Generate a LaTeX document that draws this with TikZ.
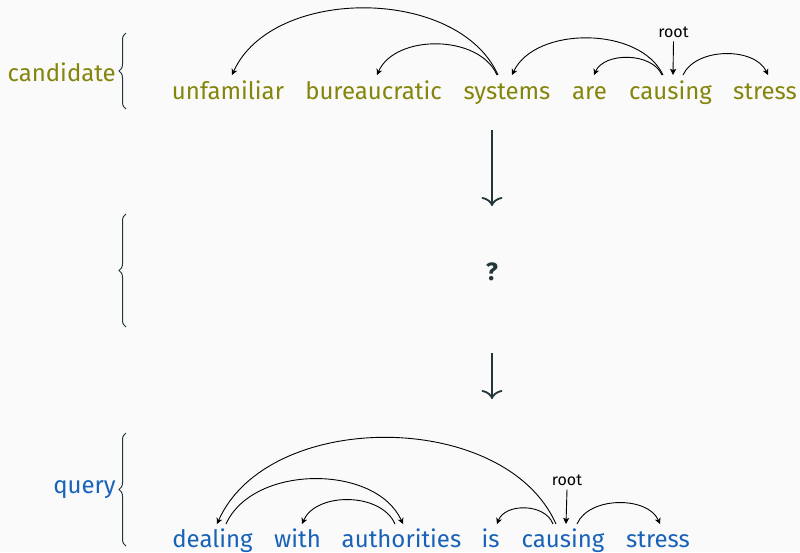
\documentclass[tikz,border=0pt]{standalone}
\usepackage{fontspec}
\setmainfont{Fira Sans}
\usetikzlibrary{arrows.meta,decorations.pathreplacing}

\definecolor{slide}{HTML}{FAFAFA}
\definecolor{darkteal}{HTML}{23373B}
\definecolor{candcol}{RGB}{133,133,12}
\definecolor{querycol}{RGB}{24,98,184}

\tikzset{
  word/.style={anchor=base, inner sep=0pt, font=\fontsize{24}{28}\selectfont},
  cword/.style={word, text=candcol},
  qword/.style={word, text=querycol},
  sidelabel/.style={anchor=base east, inner sep=0pt, font=\fontsize{24}{28}\selectfont},
  rootlabel/.style={anchor=base, inner sep=0pt, font=\fontsize{16}{18}\selectfont, text=black},
  dep/.style={draw=black, line width=0.9pt, -{Stealth[length=6pt,width=6pt,inset=1.8pt]}},
  rootarrow/.style={draw=black, line width=0.9pt, -{Stealth[length=6pt,width=6pt,inset=1pt]}},
  group/.style={draw=darkteal, line width=1pt, decorate,
    decoration={brace, amplitude=7pt}},
  flow/.style={draw=darkteal, line width=1.8pt,
    -{Computer Modern Rightarrow[length=9pt,width=21pt]}},
}

\begin{document}
\begin{tikzpicture}[x=1pt, y=-1pt]
  \fill[slide] (0,0) rectangle (800,552);
  \useasboundingbox (0,0) rectangle (800,552);

  % candidate sentence
  \node[cword] (unf) at (228,99)   {unfamiliar};
  \node[cword] (bur) at (373.5,99) {bureaucratic};
  \node[cword] (sys) at (507,99)   {systems};
  \node[cword] (are) at (589.5,99) {are};
  \node[cword] (cau) at (670.5,99) {causing};
  \node[cword] (str) at (765,99)   {stress};

  % query sentence
  \node[qword] (dea) at (212.5,547) {dealing};
  \node[qword] (wit) at (297.5,547) {with};
  \node[qword] (aut) at (401.5,547) {authorities};
  \node[qword] (is)  at (490.5,547) {is};
  \node[qword] (qca) at (563,547)   {causing};
  \node[qword] (qst) at (658,547)   {stress};

  % side labels and braces
  \node[sidelabel, text=candcol] (candlab) at (116,81) {candidate};
  \node[sidelabel, text=querycol] (querylab) at (116,493) {query};
  \draw[group] (126,109) -- (126,33);
  \draw[group] (126,327) -- (126,214);
  \draw[group] (126,546) -- (126,433);

  % the unknown middle step
  \node[anchor=base, inner sep=0pt, text=darkteal,
        font=\fontsize{25}{28}\selectfont\bfseries] (mid) at (492,280) {?};
  \coordinate (flowAtop) at (492,130);
  \coordinate (flowAbot) at (492,206);
  \coordinate (flowBtop) at (492,353);
  \coordinate (flowBbot) at (492,399);
  \draw[flow] (flowAtop) -- (flowAbot);
  \draw[flow] (flowBtop) -- (flowBbot);

  % attachment points on the candidate words
  \coordinate (sysA) at ([xshift=-9pt,yshift=24pt]sys.base);
  \coordinate (sysB) at ([xshift=-10pt,yshift=24pt]sys.base);
  \coordinate (sysIn) at ([xshift=5pt,yshift=24pt]sys.base);
  \coordinate (unfIn) at ([xshift=4pt,yshift=24pt]unf.base);
  \coordinate (burIn) at ([xshift=3.5pt,yshift=24pt]bur.base);
  \coordinate (cauA) at ([xshift=-7.5pt,yshift=24pt]cau.base);
  \coordinate (cauB) at ([xshift=-8.5pt,yshift=24pt]cau.base);
  \coordinate (cauC) at ([xshift=12.5pt,yshift=24pt]cau.base);
  \coordinate (cauIn) at ([xshift=2.5pt,yshift=24pt]cau.base);
  \coordinate (areIn) at ([xshift=4.5pt,yshift=24pt]are.base);
  \coordinate (strIn) at ([xshift=3pt,yshift=24pt]str.base);
  \node[rootlabel] (croot) at (673.5,37) {root};

  % candidate dependency arcs
  \draw[dep] (sysA) .. controls +(-40,-89) and +(40,-89) .. (unfIn);
  \draw[dep] (sysB) .. controls +(-18,-41) and +(18,-41) .. (burIn);
  \draw[dep] (cauA) .. controls +(-23,-49) and +(23,-49) .. (sysIn);
  \draw[dep] (cauB) .. controls +(-10,-23) and +(10,-23) .. (areIn);
  \draw[dep] (cauC) .. controls +(13,-28) and +(-13,-28) .. (strIn);
  \draw[rootarrow] ([yshift=-4pt]croot.south) -- (cauIn);

  % attachment points on the query words
  \coordinate (qcaA) at ([xshift=-7pt,yshift=23pt]qca.base);
  \coordinate (qcaB) at ([xshift=-10pt,yshift=23pt]qca.base);
  \coordinate (qcaC) at ([xshift=14pt,yshift=23pt]qca.base);
  \coordinate (qcaIn) at ([xshift=3pt,yshift=23pt]qca.base);
  \coordinate (deaIn) at ([xshift=4.5pt,yshift=23pt]dea.base);
  \coordinate (deaOut) at ([xshift=13.5pt,yshift=23pt]dea.base);
  \coordinate (autIn) at ([xshift=1.5pt,yshift=23pt]aut.base);
  \coordinate (autOut) at ([xshift=-6.5pt,yshift=23pt]aut.base);
  \coordinate (witIn) at ([xshift=4.5pt,yshift=23pt]wit.base);
  \coordinate (isIn) at ([xshift=6.5pt,yshift=23pt]is.base);
  \coordinate (qstIn) at ([xshift=2pt,yshift=23pt]qst.base);
  \node[rootlabel] (qroot) at (567,485) {root};

  % query dependency arcs
  \draw[dep] (qcaA) .. controls +(-51,-115) and +(51,-115) .. (deaIn);
  \draw[dep] (deaOut) .. controls +(27,-60) and +(-27,-60) .. (autIn);
  \draw[dep] (autOut) .. controls +(-14,-32) and +(14,-32) .. (witIn);
  \draw[dep] (qcaB) .. controls +(-8,-21) and +(8,-21) .. (isIn);
  \draw[dep] (qcaC) .. controls +(12,-28) and +(-12,-28) .. (qstIn);
  \draw[rootarrow] ([yshift=-4pt]qroot.south) -- (qcaIn);
\end{tikzpicture}
\end{document}
